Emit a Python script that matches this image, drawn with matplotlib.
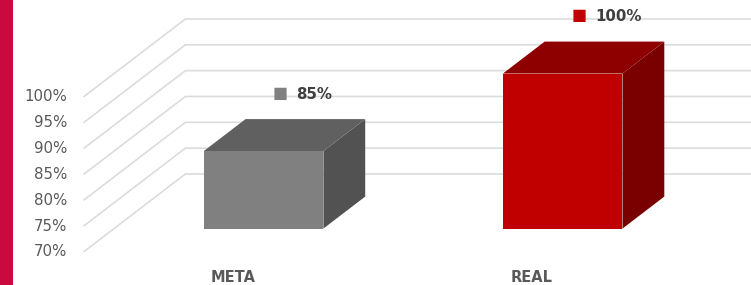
import numpy as np
import matplotlib.pyplot as plt
from matplotlib.patches import Polygon, Rectangle

categories = ['META', 'REAL']
values = [85, 100]
label_texts = ['85%', '100%']
y_ticks = [70, 75, 80, 85, 90, 95, 100]
front_colors = ['#808080', '#c00000']
top_colors = ['#606060', '#8e0000']
side_colors = ['#525252', '#7a0000']

# fake 3d: depth 0..1 shifts by (DX, DY) in data units
DX, DY = 0.341, 15.1
D0, D1 = 0.30, 0.71
HALF_W = 0.2
BASE = 70


def proj(x, v, d):
    return x + DX * d, v + DY * d


fig = plt.figure(figsize=(7.51, 2.85), dpi=100)
ax = fig.add_axes([0, 0, 1, 1])
ax.set_xlim(-0.779, 1.732)
ax.set_ylim(63.61, 118.77)
ax.axis('off')

# walls gridlines: side wall (left) + back wall
for t in y_ticks:
    x0, y0 = proj(-0.5, t, 0)
    x1, y1 = proj(-0.5, t, 1)
    ax.plot([x0, x1, 2.0], [y0, y1, y1], color='#dcdcdc', lw=1.2, zorder=1,
            solid_capstyle='butt')
    ax.text(x0 - 0.055, y0, f'{t}%', ha='right', va='center',
            fontsize=10.8, color='#595959')

for i, (cat, v) in enumerate(zip(categories, values)):
    xl, xr = i - HALF_W, i + HALF_W
    front = [proj(xl, BASE, D0), proj(xr, BASE, D0), proj(xr, v, D0), proj(xl, v, D0)]
    top = [proj(xl, v, D0), proj(xr, v, D0), proj(xr, v, D1), proj(xl, v, D1)]
    side = [proj(xr, BASE, D0), proj(xr, BASE, D1), proj(xr, v, D1), proj(xr, v, D0)]
    ax.add_patch(Polygon(side, closed=True, fc=side_colors[i], ec='none', zorder=3))
    ax.add_patch(Polygon(top, closed=True, fc=top_colors[i], ec='none', zorder=3))
    ax.add_patch(Polygon(front, closed=True, fc=front_colors[i], ec='none', zorder=4))

    # data label above back top
    lx, ly = proj(i, v, D1)
    ax.annotate(label_texts[i], (lx, ly), xytext=(-9, 25), textcoords='offset pixels',
                ha='left', va='center', fontsize=10.8, fontweight='bold', color='#404040')
    ax.annotate('■', (lx, ly), xytext=(-25, 26), textcoords='offset pixels',
                ha='center', va='center', fontsize=11.5, color=front_colors[i])

    ax.text(i, 65.0, cat, ha='center', va='center', fontsize=10.5,
            fontweight='bold', color='#595959')

# crimson strip on the left edge
ax.add_patch(Rectangle((0, 0), 0.0175, 1, transform=ax.transAxes,
                       fc='#c90a3f', ec='none', zorder=5))

fig.savefig('out.png', dpi=100)
